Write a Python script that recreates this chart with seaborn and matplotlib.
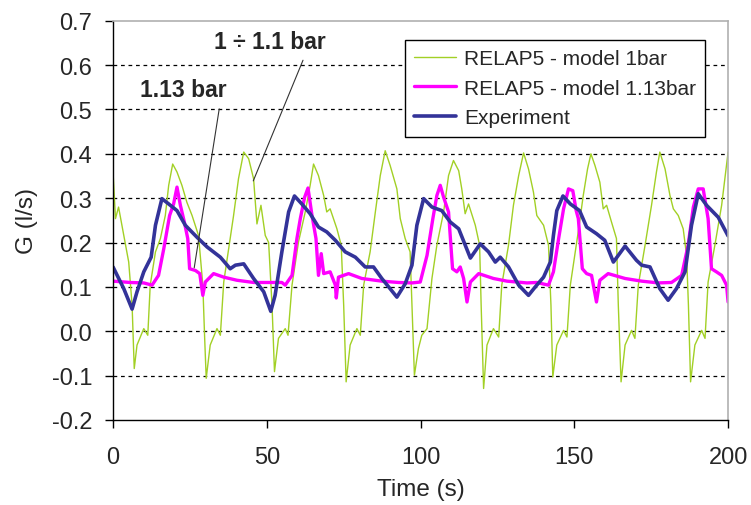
import numpy as np
import pandas as pd
import seaborn as sns
import matplotlib.pyplot as plt

# RELAP5 - model 1bar (green)
m1_t = [0, 0.8, 1.8, 3.5, 5.1, 6.2, 6.9, 7.8, 10, 11.3, 12.1, 13.8, 15.4, 17, 18.1, 19.4,
        20.8, 22.4, 24, 25.7, 27.8, 29.2, 29.8, 30.3, 31.6, 33.8, 34.9, 36, 37.6, 39.2, 40.8,
        42.5, 44.1, 45.7, 46.8, 48.1, 49.5, 50.6, 51.7, 52.5, 53.8, 56, 56.9, 58.2, 60.3, 62.5,
        64.1, 65.2, 66.8, 68.5, 69.5, 70.6, 72.8, 74.2, 75, 75.8, 77.1, 79.3, 80.4, 81.5, 83.6,
        85.3, 86.9, 88.5, 90.1, 92.3, 93.4, 95, 96.6, 97.2, 98, 99.3, 100.4, 102.1, 103.7,
        105.3, 107.5, 109.1, 110.7, 112.4, 113.4, 114.5, 115.6, 117.8, 119.2, 119.7, 120.5,
        121.6, 123.7, 125.4, 126.4, 128.6, 130.2, 131.9, 133.5, 135.1, 136.7, 137.8, 140,
        141.6, 142.4, 143, 144.3, 146.5, 147.6, 148.7, 150.3, 151.5, 152.9, 154.3, 155.4,
        156.7, 158.3, 159.4, 160.5, 162.1, 163.7, 164.3, 165.2, 166.5, 168.6, 169.7, 170.8,
        173, 175.1, 176.7, 177.8, 179.5, 181.1, 182.2, 183.8, 185.4, 186.5, 187.1, 187.8,
        189.2, 191.4, 192.5, 193.5, 195.7, 197.9, 199.5, 200]
m1_g = [0.359, 0.254, 0.28, 0.216, 0.156, 0.059, -0.084, -0.031, 0.006, -0.009, 0.104, 0.179,
        0.209, 0.261, 0.329, 0.377, 0.359, 0.329, 0.291, 0.261, 0.216, 0.104, -0.016, -0.106,
        -0.031, 0.006, -0.009, 0.111, 0.186, 0.261, 0.344, 0.404, 0.389, 0.344, 0.242, 0.284,
        0.216, 0.2, 0.059, -0.091, -0.016, 0.006, -0.009, 0.104, 0.201, 0.269, 0.329, 0.377,
        0.351, 0.306, 0.269, 0.276, 0.231, 0.194, 0.059, -0.114, -0.031, 0.006, -0.009, 0.104,
        0.179, 0.269, 0.351, 0.407, 0.374, 0.321, 0.254, 0.209, 0.179, 0.059, -0.099, -0.039,
        -0.009, 0.006, 0.119, 0.194, 0.269, 0.351, 0.385, 0.362, 0.321, 0.265, 0.287, 0.239,
        0.194, 0.059, -0.129, -0.031, 0.006, -0.013, 0.104, 0.194, 0.284, 0.351, 0.402, 0.366,
        0.314, 0.261, 0.239, 0.194, 0.059, -0.103, -0.031, 0.002, -0.013, 0.104, 0.179, 0.235,
        0.306, 0.366, 0.4, 0.374, 0.336, 0.276, 0.284, 0.246, 0.209, 0.059, -0.114, -0.031,
        0.002, -0.016, 0.104, 0.194, 0.284, 0.359, 0.404, 0.366, 0.306, 0.276, 0.261, 0.231,
        0.171, 0.059, -0.114, -0.031, 0.002, -0.016, 0.111, 0.194, 0.284, 0.374, 0.404]

# RELAP5 - model 1.13bar (magenta)
m113_t = [0, 5.6, 10, 12.7, 14.8, 16.5, 18.4, 19.7, 20.8, 21.9, 23.2, 24.3, 24.9, 26.8, 28.2,
          29.2, 30, 32.7, 36, 40.3, 45.7, 50.9, 54.9, 56, 58.2, 59.8, 60.9, 62.3, 63.4, 64.7,
          66, 66.8, 67.7, 68.5, 70.6, 72.3, 72.6, 73.3, 76.6, 80.9, 87.4, 92.8, 97.2, 99.9,
          102.1, 104, 105.3, 106.4, 107.5, 109.1, 110.4, 111.8, 112.9, 114, 115.1, 116.2,
          118.9, 123.7, 128.1, 134.6, 137.8, 141.6, 143.2, 144.9, 146.5, 148.1, 149.5, 150.6,
          151.3, 152.6, 154, 155.6, 157.2, 158.3, 161, 166.5, 171.9, 177.3, 181.6, 184.9, 187,
          188.7, 190.3, 191.9, 193.5, 194.6, 196.2, 197.9, 199.5, 200]
m113_g = [0.113, 0.11, 0.109, 0.104, 0.126, 0.186, 0.261, 0.287, 0.325, 0.284, 0.246, 0.209,
          0.141, 0.137, 0.13, 0.081, 0.111, 0.13, 0.122, 0.115, 0.11, 0.11, 0.11, 0.104, 0.126,
          0.209, 0.254, 0.302, 0.323, 0.261, 0.209, 0.126, 0.175, 0.13, 0.134, 0.104, 0.075,
          0.122, 0.13, 0.119, 0.113, 0.11, 0.109, 0.111, 0.171, 0.254, 0.306, 0.329, 0.302,
          0.269, 0.141, 0.134, 0.145, 0.119, 0.066, 0.111, 0.13, 0.119, 0.113, 0.109, 0.11,
          0.104, 0.134, 0.209, 0.276, 0.321, 0.317, 0.272, 0.254, 0.141, 0.13, 0.126, 0.066,
          0.115, 0.13, 0.119, 0.113, 0.109, 0.11, 0.126, 0.194, 0.28, 0.321, 0.321, 0.254,
          0.141, 0.134, 0.126, 0.104, 0.066]

# Experiment (navy)
exp_t = [0, 3.5, 6.2, 7.8, 10, 12.4, 13.8, 15.9, 18.1, 20.8, 23.5, 27.3, 30.6, 34.9, 38.1,
         39.8, 42.5, 45.7, 49, 51.3, 52.7, 54.9, 57.1, 59, 61.4, 64.1, 66.8, 69.5, 72.3, 75.5,
         78.8, 82, 84.7, 87.4, 90.1, 92.3, 95, 97.2, 98.8, 101, 103.7, 106.9, 109.7, 112.4,
         116.2, 119.4, 122.1, 124.3, 125.9, 128.6, 131.9, 135.1, 137.3, 140, 142.2, 143.2,
         144.3, 146.3, 148.7, 151.7, 154, 157.2, 159.9, 162.7, 166.5, 170.2, 171.9, 174.6,
         177.8, 180.5, 183.2, 186, 188.1, 190.3, 193, 196.8, 200]
exp_g = [0.145, 0.096, 0.05, 0.089, 0.134, 0.167, 0.239, 0.299, 0.287, 0.272, 0.239, 0.212,
         0.19, 0.167, 0.141, 0.149, 0.152, 0.119, 0.089, 0.045, 0.081, 0.179, 0.269, 0.305,
         0.287, 0.265, 0.235, 0.224, 0.205, 0.179, 0.167, 0.145, 0.145, 0.119, 0.096, 0.077,
         0.107, 0.149, 0.239, 0.299, 0.28, 0.272, 0.246, 0.231, 0.165, 0.197, 0.179, 0.156,
         0.167, 0.145, 0.104, 0.081, 0.1, 0.122, 0.156, 0.216, 0.272, 0.305, 0.287, 0.272,
         0.235, 0.22, 0.205, 0.156, 0.192, 0.16, 0.149, 0.145, 0.096, 0.07, 0.096, 0.134,
         0.239, 0.31, 0.284, 0.257, 0.215]

series_names = ["RELAP5 - model 1bar", "RELAP5 - model 1.13bar", "Experiment"]
x_ticks = [0, 50, 100, 150, 200]
y_ticks = [-0.2, -0.1, 0.0, 0.1, 0.2, 0.3, 0.4, 0.5, 0.6, 0.7]

sns.set_style("white")
plt.rcParams['font.family'] = ['Liberation Sans', 'DejaVu Sans']
plt.rcParams['axes.unicode_minus'] = False

fig = plt.figure(figsize=(7.51, 5.06), dpi=100)
ax = fig.add_axes([0.1505, 0.168, 0.819, 0.789])

sns.lineplot(x=m1_t, y=m1_g, ax=ax, color='#a2d025', linewidth=1.0,
             sort=False, estimator=None, label=series_names[0])
sns.lineplot(x=m113_t, y=m113_g, ax=ax, color='#ff00ff', linewidth=2.4,
             sort=False, estimator=None, label=series_names[1])
sns.lineplot(x=exp_t, y=exp_g, ax=ax, color='#333399', linewidth=2.6,
             sort=False, estimator=None, label=series_names[2])

ax.set_xlim(0, 200)
ax.set_ylim(-0.2, 0.7)
ax.set_xticks(x_ticks)
ax.set_yticks(y_ticks)
ax.set_yticklabels([f"{v:.1f}" for v in y_ticks])

ax.set_axisbelow(True)
ax.yaxis.grid(True, color='black', linestyle=(0, (3, 3)), linewidth=0.9)
ax.xaxis.grid(False)
gl = ax.get_ygridlines()
gl[0].set_visible(False)
gl[-1].set_visible(False)

for s in ['left', 'bottom']:
    ax.spines[s].set_color('black')
    ax.spines[s].set_linewidth(1.0)
for s in ['top', 'right']:
    ax.spines[s].set_color('#b0b0b0')
    ax.spines[s].set_linewidth(1.2)

ax.tick_params(axis='both', direction='out', length=6, width=1, color='black',
               labelsize=17, bottom=True, left=True)
ax.tick_params(axis='x', pad=13)
ax.tick_params(axis='y', pad=9)

ax.set_xlabel("Time (s)", fontsize=17.5, labelpad=7)
ax.set_ylabel("G (l/s)", fontsize=17.5, labelpad=10)

leg = ax.legend(loc='upper right', bbox_to_anchor=(0.98, 0.978), fontsize=15,
                frameon=True, fancybox=False, edgecolor='black', framealpha=1,
                handlelength=2.0, handletextpad=0.4, labelspacing=0.5, borderpad=0.45)
leg.get_frame().set_linewidth(1.0)

ax.annotate("1 ÷ 1.1 bar", xy=(45.6, 0.339), xytext=(51.1, 0.653),
            ha='center', va='center', fontsize=16.5, fontweight='bold',
            arrowprops=dict(arrowstyle='-', color='#333333', lw=0.8,
                            relpos=(0.82, 0.0), shrinkA=3, shrinkB=0))
ax.annotate("1.13 bar", xy=(26.4, 0.143), xytext=(22.8, 0.544),
            ha='center', va='center', fontsize=16.5, fontweight='bold',
            arrowprops=dict(arrowstyle='-', color='#333333', lw=0.8,
                            relpos=(0.93, 0.0), shrinkA=3, shrinkB=0))

fig.savefig("out.png", dpi=100)
